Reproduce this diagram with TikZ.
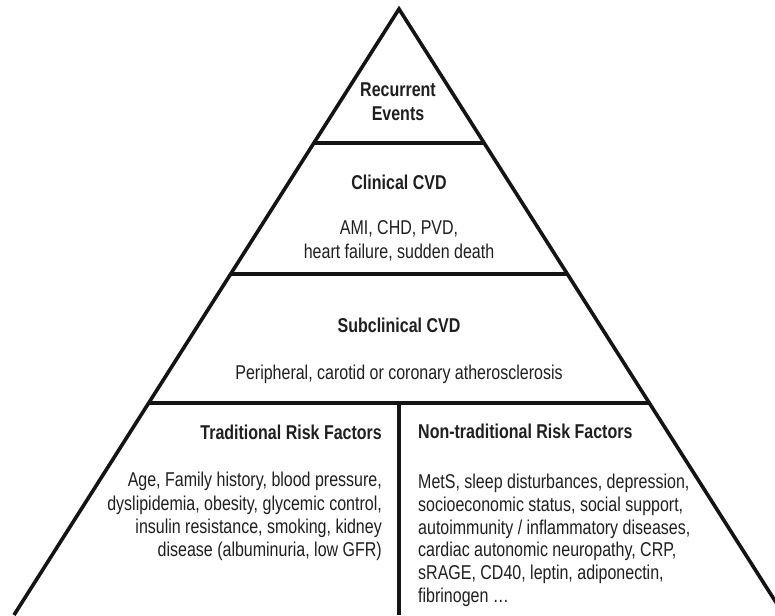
\documentclass[tikz,border=0pt]{standalone}
\usepackage{fontspec}
\setmainfont{Liberation Sans}[FakeStretch=0.8]
\begin{document}
\begin{tikzpicture}[x=1pt,y=-1pt,
  edge/.style={line width=3.6pt, draw=black!92},
  head/.style={font=\fontsize{20}{24}\selectfont\bfseries, text=black!88, inner sep=0pt},
  body/.style={font=\fontsize{20}{23}\selectfont, text=black!88, inner sep=0pt}]
\useasboundingbox (0,0) rectangle (775,615);
% pyramid outline and tier boundaries
\begin{scope}
  \clip (0,0) rectangle (775,615);
  \coordinate (apex) at (399,9);
  \coordinate (bl) at (14,615);
  \coordinate (br) at (784,615);
  \coordinate (t1l) at (314,143); \coordinate (t1r) at (484,143);
  \coordinate (t2l) at (231,274); \coordinate (t2r) at (567,274);
  \coordinate (t3l) at (149,403); \coordinate (t3r) at (649,403);
  \coordinate (split) at (399,403);
  \coordinate (splitb) at (399,615);
  \draw[edge, line join=miter, miter limit=20] (bl) -- (apex) -- (br);
  \draw[edge] (t1l) -- (t1r);
  \draw[edge] (t2l) -- (t2r);
  \draw[edge] (t3l) -- (t3r);
  \draw[edge] (split) -- (splitb);
\end{scope}
% top tier
\node[head, anchor=north, align=center] (recur) at (398,83) {Recurrent\\Events};
% clinical tier
\node[head, anchor=north] (clin) at (399,175) {Clinical CVD};
\node[body, anchor=north, align=center, font=\fontsize{20}{24}\selectfont] (clinb) at (399,220)
  {AMI, CHD, PVD,\\heart failure, sudden death};
% subclinical tier
\node[head, anchor=north] (sub) at (399,318) {Subclinical CVD};
\node[body, anchor=north] (subb) at (399,365) {Peripheral, carotid or coronary atherosclerosis};
% risk factor tier
\node[head, anchor=north east] (trad) at (382,425) {Traditional Risk Factors};
\node[body, anchor=north east, align=right, font=\fontsize{20}{23.3}\selectfont] (tradb) at (382,472)
  {Age, Family history, blood pressure,\\dyslipidemia, obesity, glycemic control,\\insulin resistance, smoking, kidney\\disease (albuminuria, low GFR)};
\node[head, anchor=north west] (nontrad) at (418,424) {Non-traditional Risk Factors};
\node[body, anchor=north west, align=left, font=\fontsize{20}{22.7}\selectfont] (nontradb) at (418,474)
  {MetS, sleep disturbances, depression,\\socioeconomic status, social support,\\autoimmunity / inflammatory diseases,\\cardiac autonomic neuropathy, CRP,\\sRAGE, CD40, leptin, adiponectin,\\fibrinogen \ldots};
\end{tikzpicture}
\end{document}
